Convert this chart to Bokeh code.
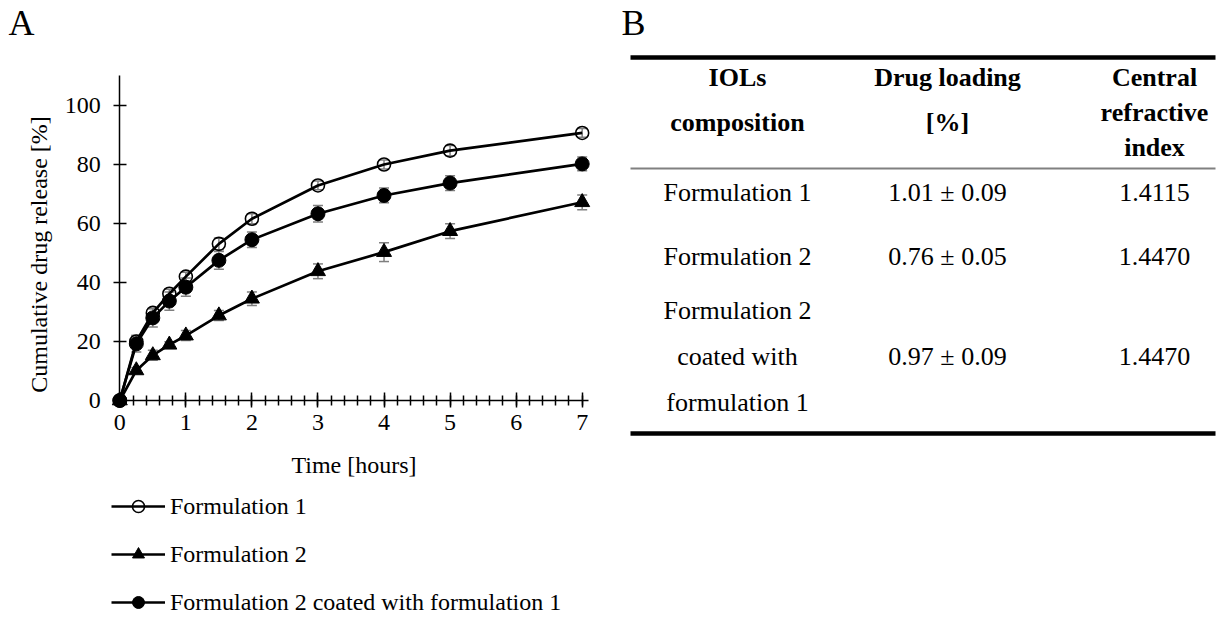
import math
from bokeh.plotting import figure
from bokeh.models import (Range1d, SingleIntervalTicker, ColumnDataSource, Whisker,
                          TeeHead, Legend, LegendItem, Label)
from bokeh.layouts import row
from bokeh.embed import file_html
from bokeh.resources import INLINE
from bokeh.core.properties import value

FONT = "Liberation Serif"

# ---------------- data (panel A) ----------------
time_h = [0, 0.25, 0.5, 0.75, 1, 1.5, 2, 3, 4, 5, 7]
f1 = [0, 20.0, 29.7, 36.2, 42.0, 53.1, 61.6, 72.9, 80.0, 84.7, 90.7]
f1_err = [0, 2.0, 1.5, 1.5, 1.5, 2.0, 1.7, 1.5, 1.5, 1.7, 1.5]
f2 = [0, 10.2, 15.3, 18.9, 22.0, 28.8, 34.5, 43.8, 50.3, 57.4, 67.2]
f2_err = [0, 1.0, 1.7, 1.0, 1.7, 1.7, 2.3, 2.5, 3.2, 2.5, 2.5]
coated = [0, 19.2, 28.0, 33.7, 38.4, 47.5, 54.5, 63.3, 69.5, 73.7, 80.2]
coated_err = [0, 2.8, 3.1, 3.1, 3.1, 3.0, 2.6, 2.8, 2.5, 2.5, 2.3]
series_names = ["Formulation 1", "Formulation 2", "Formulation 2 coated with formulation 1"]

# ---------------- data (panel B table) ----------------
table_header = [["IOLs", "composition"], ["Drug loading", "[%]"], ["Central", "refractive", "index"]]
table_rows = [
    [["Formulation 1"], ["1.01 \u00b1 0.09"], ["1.4115"]],
    [["Formulation 2"], ["0.76 \u00b1 0.05"], ["1.4470"]],
    [["Formulation 2", "coated with", "formulation 1"], ["0.97 \u00b1 0.09"], ["1.4470"]],
]

W1, W2, H = 620, 604, 618

# ---------------- panel A ----------------
p1 = figure(width=W1, height=H, x_range=Range1d(-1.806, 7.580), y_range=Range1d(-73.9, 135.59),
            output_backend="svg", toolbar_location=None, min_border=0)
p1.grid.visible = False
p1.outline_line_color = None
p1.background_fill_color = "white"
p1.border_fill_color = "white"

for ax in (p1.xaxis[0], p1.yaxis[0]):
    ax.fixed_location = 0
    ax.axis_line_color = "black"
    ax.axis_line_width = 1.5
    ax.major_tick_line_color = "black"
    ax.major_tick_line_width = 1.5
    ax.minor_tick_line_color = "black"
    ax.minor_tick_line_width = 1.5
    ax.major_label_text_font = FONT
    ax.major_label_text_font_size = "24px"
    ax.major_label_text_color = "black"
    ax.axis_label_text_font = FONT
    ax.axis_label_text_font_size = "24px"
    ax.axis_label_text_font_style = "normal"
    ax.axis_label_text_color = "black"

xa = p1.xaxis[0]
xa.ticker = SingleIntervalTicker(interval=1, num_minor_ticks=5)
xa.bounds = (0, 7.1)
xa.major_tick_in = 8
xa.major_tick_out = 7
xa.minor_tick_in = 5
xa.minor_tick_out = 5
xa.major_label_standoff = 8
xa.axis_label = "Time [hours]"
xa.axis_label_standoff = 18

ya = p1.yaxis[0]
ya.ticker = SingleIntervalTicker(interval=20, num_minor_ticks=0)
ya.bounds = (0, 110)
ya.major_tick_in = 7
ya.major_tick_out = 6
ya.minor_tick_in = 0
ya.minor_tick_out = 0
ya.major_label_standoff = 13

p1.add_layout(Label(x=38, y=49.5, x_units="screen", y_units="data",
                    text="Cumulative drug release [%]", angle=math.pi / 2,
                    text_align="center", text_baseline="middle",
                    text_font=FONT, text_font_size="24px", text_color="#000000"))

ERR = "#7f7f7f"
def whisker(vals, errs):
    src = ColumnDataSource(dict(x=time_h, lo=[v - e for v, e in zip(vals, errs)],
                                hi=[v + e for v, e in zip(vals, errs)]))
    w = Whisker(base="x", lower="lo", upper="hi", source=src, line_color=ERR, line_width=1.5,
                upper_head=TeeHead(size=10, line_color=ERR, line_width=1.5),
                lower_head=TeeHead(size=10, line_color=ERR, line_width=1.5))
    p1.add_layout(w)

whisker(f2, f2_err)
whisker(coated, coated_err)
whisker(f1, f1_err)

l2 = p1.line(time_h, f2, line_color="black", line_width=2.7)
s2 = p1.scatter(time_h, f2, marker="triangle", size=15, fill_color="black", line_color="black")
l3 = p1.line(time_h, coated, line_color="black", line_width=2.7)
s3 = p1.scatter(time_h, coated, marker="circle", size=14, fill_color="black", line_color="black")
l1 = p1.line(time_h, f1, line_color="black", line_width=2.7)
s1 = p1.scatter(time_h, f1, marker="circle", size=13, fill_color=None, line_color="black", line_width=1.6)

legend = Legend(items=[LegendItem(label=series_names[0], renderers=[l1, s1]),
                       LegendItem(label=series_names[1], renderers=[l2, s2]),
                       LegendItem(label=series_names[2], renderers=[l3, s3])],
                location=(111, 1), padding=0, margin=0, spacing=18,
                glyph_width=54, glyph_height=30, label_height=30, label_standoff=5,
                label_text_font=FONT, label_text_font_size="24px", label_text_color="black",
                border_line_color=None, background_fill_alpha=0)
p1.add_layout(legend)

p1.add_layout(Label(x=8, y=596, x_units="screen", y_units="screen", text="A",
                    text_align="left", text_baseline="alphabetic",
                    text_font=FONT, text_font_size="36px", text_color="black"))

# ---------------- panel B ----------------
p2 = figure(width=W2, height=H, x_range=Range1d(620, 620 + W2), y_range=Range1d(H, 0),
            output_backend="svg", toolbar_location=None, min_border=0,
            x_axis_type=None, y_axis_type=None)
p2.outline_line_color = None
p2.grid.visible = False

col_x = [737, 947, 1154]
head_y = [[77, 122], [77, 122], [77, 112, 147]]
row_y = [
    [[192], [192], [192]],
    [[255.5], [255.5], [255.5]],
    [[310, 356, 402], [356], [356]],
]

hx, hy, ht = [], [], []
for c, lines in enumerate(table_header):
    for t, yy in zip(lines, head_y[c]):
        hx.append(col_x[c]); hy.append(yy); ht.append(t)
p2.text(x=hx, y=hy, text=ht, text_font=value(FONT), text_font_size=value("26px"),
        text_font_style="bold", text_align="center", text_baseline="alphabetic", text_color="black")

bx, by, bt = [], [], []
for r, cells in enumerate(table_rows):
    for c, lines in enumerate(cells):
        for t, yy in zip(lines, row_y[r][c]):
            bx.append(col_x[c]); by.append(yy); bt.append(t)
p2.text(x=bx, y=by, text=bt, text_font=value(FONT), text_font_size=value("26px"),
        text_align="center", text_baseline="alphabetic", text_color="black")

p2.segment(x0=[630, 630, 630], y0=[57, 168, 433], x1=[1215, 1215, 1215], y1=[57, 168, 433],
           line_color=["black", "#808080", "black"], line_width=[4.5, 2, 4.5])

p2.text(x=[621], y=[22.5], text=["B"], text_font=value(FONT), text_font_size=value("36px"),
        text_align="left", text_baseline="alphabetic", text_color="black")

layout = row(p1, p2)
open("out.html", "w").write(file_html(layout, INLINE))
